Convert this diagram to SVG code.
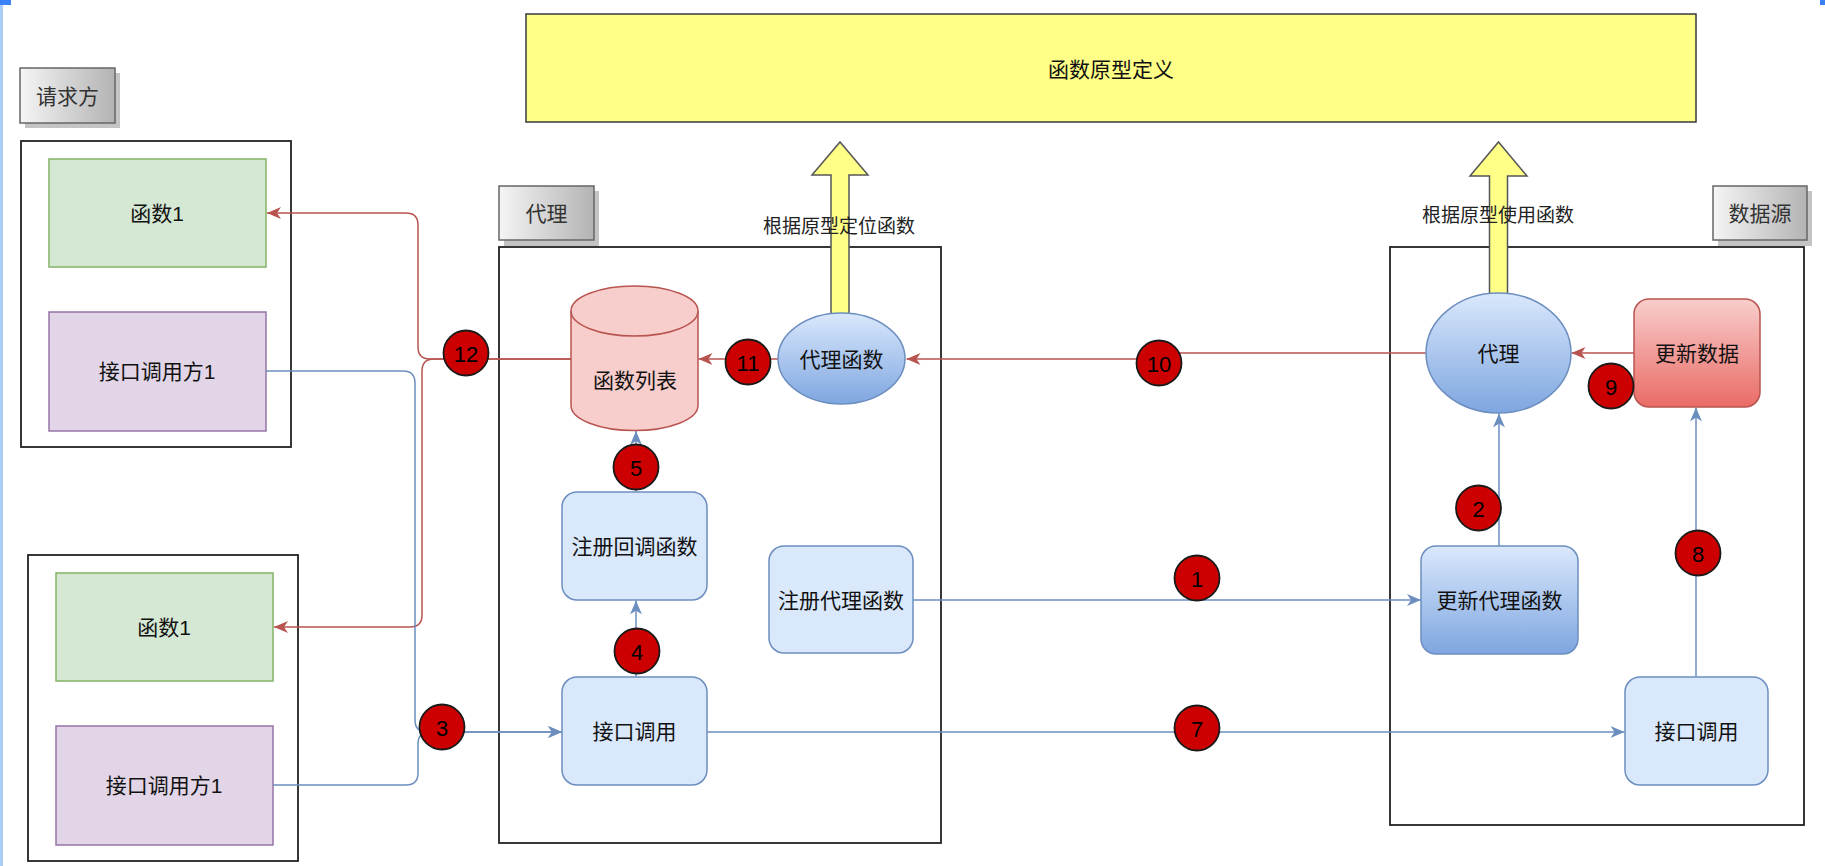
<svg xmlns="http://www.w3.org/2000/svg" width="1825" height="866" viewBox="0 0 1825 866">
<defs>
<linearGradient id="gLabel" x1="0" y1="0" x2="1" y2="0"><stop offset="0" stop-color="#f5f5f5"/><stop offset="1" stop-color="#b3b3b3"/></linearGradient>
<linearGradient id="gBlue" x1="0" y1="0" x2="0" y2="1"><stop offset="0" stop-color="#dae8fc"/><stop offset="1" stop-color="#7ea6e0"/></linearGradient>
<linearGradient id="gRed" x1="0" y1="0" x2="0" y2="1"><stop offset="0" stop-color="#f8cecc"/><stop offset="1" stop-color="#ea6b66"/></linearGradient>
<marker id="aBlue" markerUnits="userSpaceOnUse" markerWidth="14" markerHeight="12" refX="14" refY="6" orient="auto"><path d="M0,0 L14,6 L0,12 L4,6 z" fill="#6c8ebf"/></marker>
<marker id="aRed" markerUnits="userSpaceOnUse" markerWidth="14" markerHeight="12" refX="14" refY="6" orient="auto"><path d="M0,0 L14,6 L0,12 L4,6 z" fill="#b85450"/></marker>
</defs>
<style>
text{font-family:"Liberation Sans","Noto Sans CJK SC",sans-serif;font-size:21px;fill:#111;text-anchor:middle;dominant-baseline:central}
.lbl rect.b{fill:url(#gLabel);stroke:#666;stroke-width:1.5}
.lbl rect.s{fill:#c4c4c4}
.lbl text{fill:#333}
.cont{fill:#fff;stroke:#222;stroke-width:1.8}
.green{fill:#d5e8d4;stroke:#82b366;stroke-width:1.5}
.purple{fill:#e1d5e7;stroke:#9673a6;stroke-width:1.5}
.lb{fill:#dae8fc;stroke:#6c8ebf;stroke-width:1.5}
.gb{fill:url(#gBlue);stroke:#6c8ebf;stroke-width:1.5}
.gr{fill:url(#gRed);stroke:#b85450;stroke-width:1.5}
.badge circle{fill:#cc0000;stroke:#1a1a1a;stroke-width:1.8}
.badge text{font-size:22px;fill:#000}
.eb{fill:none;stroke:#6c8ebf;stroke-width:1.5}
.er{fill:none;stroke:#b85450;stroke-width:1.5}
.ya{fill:#ffff88;stroke:#555;stroke-width:1.5}
.elab{font-size:19px;fill:#222}
</style>
<rect x="0" y="0" width="1825" height="866" fill="#fff"/>
<rect x="0" y="0" width="3" height="866" fill="#a9cdf7"/>
<rect x="0" y="0" width="11" height="5" fill="#3b82f6"/>
<rect x="1820" y="0" width="5" height="5" fill="#3b82f6"/>

<g id="label-requester" class="lbl"><rect class="s" x="25" y="73" width="95" height="55"/><rect class="b" x="20" y="68" width="95" height="55"/><text x="67.5" y="96">请求方</text></g>
<g id="label-proxy" class="lbl"><rect class="s" x="504" y="191" width="95" height="55"/><rect class="b" x="499" y="186" width="95" height="54"/><text x="546.5" y="213">代理</text></g>
<g id="label-datasource" class="lbl"><rect class="s" x="1718" y="191" width="94" height="55"/><rect class="b" x="1713" y="186" width="94" height="54"/><text x="1760" y="213">数据源</text></g>

<g id="container-requester1"><rect class="cont" x="21" y="141" width="270" height="306"/></g>
<g id="container-requester2"><rect class="cont" x="28" y="555" width="270" height="306"/></g>
<g id="container-proxy"><rect class="cont" x="499" y="247" width="442" height="596"/></g>
<g id="container-datasource"><rect class="cont" x="1390" y="247" width="414" height="578"/></g>

<g id="proto-def"><rect x="526" y="14" width="1170" height="108" fill="#ffff88" stroke="#36393d" stroke-width="1.5"/><text x="1111" y="69">函数原型定义</text></g>

<g id="func1-a"><rect class="green" x="49" y="159" width="217" height="108"/><text x="157" y="213">函数1</text></g>
<g id="caller1-a"><rect class="purple" x="49" y="312" width="217" height="119"/><text x="157" y="371">接口调用方1</text></g>
<g id="func1-b"><rect class="green" x="56" y="573" width="217" height="108"/><text x="164" y="627">函数1</text></g>
<g id="caller1-b"><rect class="purple" x="56" y="726" width="217" height="119"/><text x="164" y="785">接口调用方1</text></g>

<g id="connectors">
<path class="er" d="M571,359 H430 Q418,359 418,347 V225 Q418,213 406,213 H267" marker-end="url(#aRed)"/>
<path class="er" d="M571,359 H434 Q422,359 422,371 V615 Q422,627 410,627 H274" marker-end="url(#aRed)"/>
<path class="eb" d="M266,371 H403 Q415,371 415,383 V720 Q415,732 427,732 H562" marker-end="url(#aBlue)"/>
<path class="eb" d="M273,785 H406 Q418,785 418,773 V744 Q418,732 430,732 H562" marker-end="url(#aBlue)"/>
<path class="eb" d="M636,491.5 V431" marker-end="url(#aBlue)"/>
<path class="eb" d="M636,677 V600.5" marker-end="url(#aBlue)"/>
<path class="er" d="M778,359 H698.5" marker-end="url(#aRed)"/>
<path class="er" d="M1426,353 H1159 V359 H906.5" marker-end="url(#aRed)"/>
<path class="er" d="M1634,353 H1571.5" marker-end="url(#aRed)"/>
<path class="eb" d="M913,600 H1421" marker-end="url(#aBlue)"/>
<path class="eb" d="M707,732 H1624.5" marker-end="url(#aBlue)"/>
<path class="eb" d="M1499,546 V413.5" marker-end="url(#aBlue)"/>
<path class="eb" d="M1696,677 V407.5" marker-end="url(#aBlue)"/>
<polygon class="ya" points="831,316 831,175 812,175 840,142 868,175 849,175 849,316"/>
<polygon class="ya" points="1489.5,296 1489.5,176 1470,176 1498.5,142 1527,176 1507.5,176 1507.5,296"/>
<text class="elab" x="839" y="226">根据原型定位函数</text>
<text class="elab" x="1498" y="215">根据原型使用函数</text>
</g>

<g id="func-list"><path d="M571,311 A63.5,25 0 0 1 698,311 V405.5 A63.5,25 0 0 1 571,405.5 Z" fill="#f8cecc" stroke="#b85450" stroke-width="1.5"/><path d="M571,311 A63.5,25 0 0 0 698,311" fill="none" stroke="#b85450" stroke-width="1.5"/><text x="635" y="380">函数列表</text></g>
<g id="proxy-func"><ellipse class="gb" cx="841.5" cy="358.5" rx="63.5" ry="45.5"/><text x="841.5" y="359">代理函数</text></g>
<g id="register-callback"><rect class="lb" x="562" y="492" width="145" height="108" rx="15"/><text x="634.5" y="546">注册回调函数</text></g>
<g id="call-proxy"><rect class="lb" x="562" y="677" width="145" height="108" rx="15"/><text x="634.5" y="731">接口调用</text></g>
<g id="register-proxy"><rect class="lb" x="769" y="546" width="144" height="107" rx="15"/><text x="841" y="600">注册代理函数</text></g>

<g id="proxy-ds"><ellipse class="gb" cx="1498.5" cy="353" rx="72.5" ry="60"/><text x="1498.5" y="353">代理</text></g>
<g id="update-data"><rect class="gr" x="1634" y="299" width="126" height="108" rx="15"/><text x="1697" y="353">更新数据</text></g>
<g id="update-proxy"><rect class="gb" x="1421" y="546" width="157" height="108" rx="15"/><text x="1499.5" y="600">更新代理函数</text></g>
<g id="call-ds"><rect class="lb" x="1625" y="677" width="143" height="108" rx="15"/><text x="1696.5" y="731">接口调用</text></g>

<g id="badge-1" class="badge"><circle cx="1197" cy="578" r="22.5"/><text x="1197" y="579">1</text></g>
<g id="badge-2" class="badge"><circle cx="1478.5" cy="508" r="22.5"/><text x="1478.5" y="509">2</text></g>
<g id="badge-3" class="badge"><circle cx="442" cy="727" r="22.5"/><text x="442" y="728">3</text></g>
<g id="badge-4" class="badge"><circle cx="637" cy="651" r="22.5"/><text x="637" y="652">4</text></g>
<g id="badge-5" class="badge"><circle cx="636" cy="467" r="22.5"/><text x="636" y="468">5</text></g>
<g id="badge-7" class="badge"><circle cx="1197" cy="728" r="22.5"/><text x="1197" y="729">7</text></g>
<g id="badge-8" class="badge"><circle cx="1698" cy="553" r="22.5"/><text x="1698" y="554">8</text></g>
<g id="badge-9" class="badge"><circle cx="1611" cy="386" r="22.5"/><text x="1611" y="387">9</text></g>
<g id="badge-10" class="badge"><circle cx="1159" cy="363" r="22.5"/><text x="1159" y="364">10</text></g>
<g id="badge-11" class="badge"><circle cx="748" cy="362" r="22.5"/><text x="748" y="363">11</text></g>
<g id="badge-12" class="badge"><circle cx="466" cy="353" r="22.5"/><text x="466" y="354">12</text></g>
</svg>
